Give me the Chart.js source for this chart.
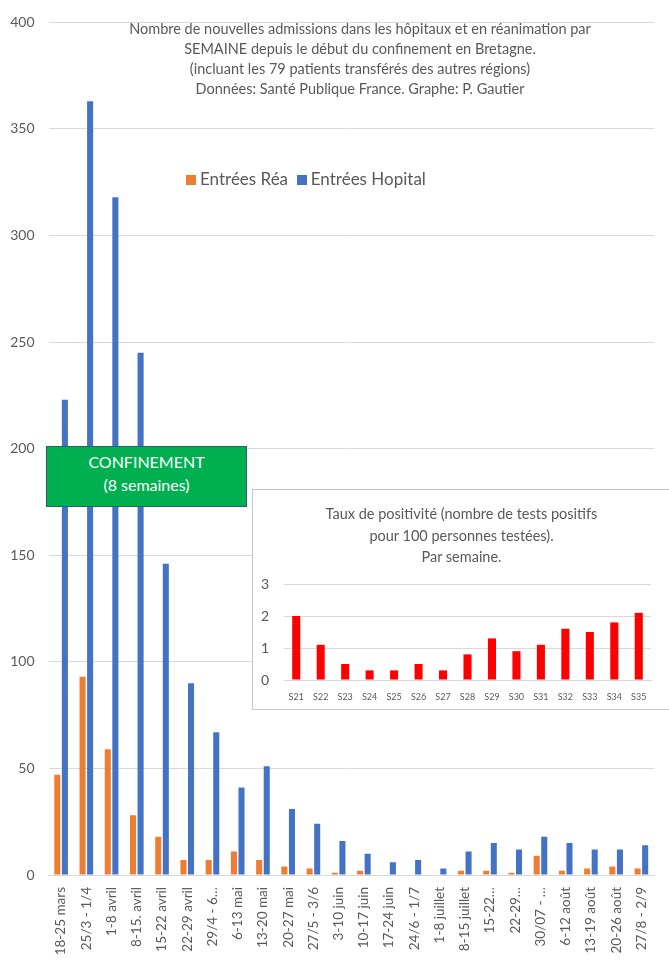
<!DOCTYPE html>
<html>
<head>
<meta charset="utf-8">
<script src="https://cdn.jsdelivr.net/npm/chart.js@4"></script>
<style>
  html, body { margin: 0; padding: 0; background: #fff; }
  #wrap { position: relative; width: 669px; height: 960px; overflow: hidden; font-family: Lato, sans-serif; }
  #main { position: absolute; left: 0; top: 0; }
  .title { position: absolute; left: 95px; width: 530px; top: 19px; text-align: center; color: #595959; font-size: 14.5px; line-height: 20px; }
  .legend { position: absolute; left: 186px; top: 168px; color: #595959; font-size: 17px; white-space: nowrap; }
  .legend span.sq { display: inline-block; width: 10px; height: 10px; margin-right: 4px; vertical-align: 0; }
  .confi { position: absolute; left: 46px; top: 446px; width: 199px; background: #00b050; border: 1px solid #2e5f6a;
           color: #fff; text-align: center; font-size: 16px; line-height: 23px; box-sizing: content-box; padding-top: 3px; height: 56px; }
  #inset { position: absolute; left: 252px; top: 489px; width: 430px; height: 219px; background: #fff; border: 1px solid #c8c8c8; }
  .ititle { position: absolute; left: 0; width: 417px; top: 13px; text-align: center; color: #595959; font-size: 14.5px; line-height: 21.5px; }
  #pos { position: absolute; left: 0; top: 0; }
</style>
</head>
<body>
<div id="wrap">
  <canvas id="main" width="669" height="960"></canvas>
  <div class="title">Nombre de nouvelles admissions dans les hôpitaux et en réanimation par<br>SEMAINE depuis le début du confinement en Bretagne.<br>(incluant les 79 patients transférés des autres régions)<br>Données: Santé Publique France. Graphe: P. Gautier</div>
  <div class="legend"><span class="sq" style="background:#ed7d31"></span>Entrées Réa&nbsp;&nbsp;<span class="sq" style="background:#4472c4"></span>Entrées Hopital</div>
  <div class="confi">CONFINEMENT<br>(8 semaines)</div>
  <div id="inset">
    <canvas id="pos" width="417" height="219"></canvas>
    <div class="ititle">Taux de positivité (nombre de tests positifs<br>pour 100 personnes testées).<br>Par semaine.</div>
  </div>
</div>
<script>
const weeks = ['18-25 mars', '25/3 - 1/4', '1-8 avril', '8-15. avril', '15-22 avril', '22-29 avril',
  '29/4 - 6…', '6-13 mai', '13-20 mai', '20-27 mai', '27/5 - 3/6', '3-10 juin', '10-17 juin',
  '17-24 juin', '24/6 - 1/7', '1-8 juillet', '8-15 juillet', '15-22…', '22-29…', '30/07 - …',
  '6-12 août', '13-19 août', '20-26 août', '27/8 - 2/9'];
const entreesRea = [47, 93, 59, 28, 18, 7, 7, 11, 7, 4, 3, 1, 2, 0, 0, 0, 2, 2, 1, 9, 2, 3, 4, 3];
const entreesHopital = [223, 363, 318, 245, 146, 90, 67, 41, 51, 31, 24, 16, 10, 6, 7, 3, 11, 15, 12, 18, 15, 12, 12, 14];
const yTicks = [0, 50, 100, 150, 200, 250, 300, 350, 400];

const semaines = ['S21', 'S22', 'S23', 'S24', 'S25', 'S26', 'S27', 'S28', 'S29', 'S30', 'S31', 'S32', 'S33', 'S34', 'S35'];
const positivite = [2.0, 1.1, 0.5, 0.3, 0.3, 0.5, 0.3, 0.8, 1.3, 0.9, 1.1, 1.6, 1.5, 1.8, 2.1];
const posTicks = [0, 1, 2, 3];

const grey = '#595959';

new Chart(document.getElementById('main'), {
  type: 'bar',
  data: {
    labels: weeks,
    datasets: [
      { label: 'Entrées Réa', data: entreesRea, backgroundColor: '#ed7d31' },
      { label: 'Entrées Hopital', data: entreesHopital, backgroundColor: '#4472c4' }
    ]
  },
  options: {
    responsive: false,
    animation: false,
    events: [],
    layout: { padding: { top: 22, right: 15, left: 0, bottom: 0 } },
    datasets: { bar: { categoryPercentage: 0.6, barPercentage: 0.8 } },
    plugins: { legend: { display: false }, tooltip: { enabled: false } },
    scales: {
      x: {
        grid: { display: false },
        border: { color: '#d9d9d9' },
        ticks: { color: grey, font: { family: 'Lato', size: 13.5 }, minRotation: 90, maxRotation: 90, autoSkip: false, padding: 4 },
        afterFit: (s) => { s.height = 85; }
      },
      y: {
        min: 0, max: 400,
        afterBuildTicks: (s) => { s.ticks = yTicks.map(v => ({ value: v })); },
        grid: { color: '#d9d9d9', drawTicks: false },
        border: { display: false },
        ticks: { color: grey, font: { family: 'Lato', size: 14 }, padding: 14 },
        afterFit: (s) => { s.width = 48.5; }
      }
    }
  }
});

new Chart(document.getElementById('pos'), {
  type: 'bar',
  data: {
    labels: semaines,
    datasets: [{ label: 'Taux de positivité', data: positivite, backgroundColor: '#ff0000' }]
  },
  options: {
    responsive: false,
    animation: false,
    events: [],
    layout: { padding: { top: 94, right: 19, left: 0, bottom: 0 } },
    datasets: { bar: { categoryPercentage: 1, barPercentage: 0.33 } },
    plugins: { legend: { display: false }, tooltip: { enabled: false } },
    scales: {
      x: {
        grid: { display: false },
        border: { color: '#d9d9d9' },
        ticks: { color: grey, font: { family: 'Lato', size: 9 }, maxRotation: 0, autoSkip: false, padding: 4 },
        afterFit: (s) => { s.height = 29; }
      },
      y: {
        min: 0, max: 3,
        afterBuildTicks: (s) => { s.ticks = posTicks.map(v => ({ value: v })); },
        grid: { color: '#d9d9d9', drawTicks: false },
        border: { display: false },
        ticks: { color: grey, font: { family: 'Lato', size: 14 }, padding: 15 },
        afterFit: (s) => { s.width = 31; }
      }
    }
  }
});
</script>
</body>
</html>
